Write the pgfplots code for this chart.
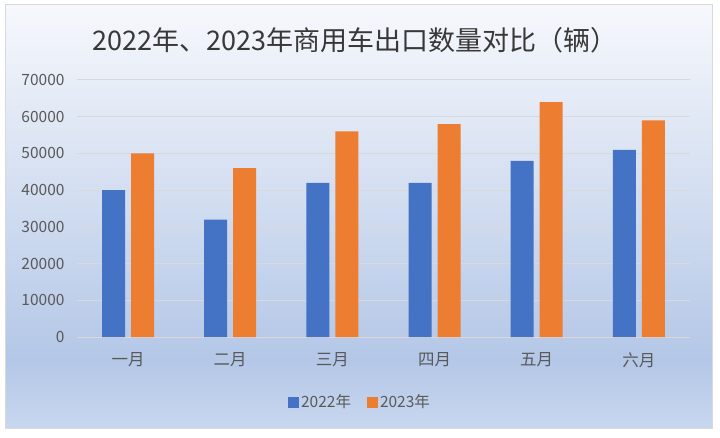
\documentclass[border=0pt]{standalone}
\usepackage{pgfplots}
\pgfplotsset{compat=1.18}
\usepackage{fontspec}
\setmainfont{Noto Sans CJK SC}
\definecolor{c2022}{HTML}{4472C4}
\definecolor{c2023}{HTML}{ED7D31}
\definecolor{txt}{HTML}{595959}
\definecolor{gridc}{HTML}{D9D9D9}
\definecolor{bgtop}{HTML}{F6F8FC}
\definecolor{bgmid}{HTML}{B4C7E7}
\definecolor{bgbot}{HTML}{C8D7EF}
\pgfdeclareverticalshading{bgshade}{100bp}{color(0bp)=(bgbot); color(25bp)=(bgbot); color(33bp)=(bgmid); color(75bp)=(bgtop); color(100bp)=(bgtop)}
\begin{document}
\begin{tikzpicture}[x=1pt,y=1pt]
\fill[white] (0,0) rectangle (720,437);
\shade[shading=bgshade] (5,9) rectangle (712,432);
\draw[gridc, line width=1pt] (5,9) rectangle (712,432);
\node[text=black!78, font=\fontsize{27}{31}\selectfont] at (355,397) {2022年、2023年商用车出口数量对比（辆）};
\begin{axis}[
  at={(77pt,100pt)}, anchor=south west,
  scale only axis, width=613pt, height=257pt,
  ybar, bar width=23pt,
  xmin=-0.5, xmax=5.5, ymin=0, ymax=70000,
  xtick={0,1,2,3,4,5},
  xticklabels={一月,二月,三月,四月,五月,六月},
  ytick={0,10000,...,70000},
  axis line style={draw=none},
  major tick style={draw=none},
  ymajorgrids, grid style={gridc, line width=1pt},
  /pgf/number format/assume math mode=true,
  scaled y ticks=false,
  yticklabel={\pgfmathprintnumber[fixed,1000 sep={}]{\tick}},
  ticklabel style={text=txt},
  yticklabel style={anchor=east, xshift=-9pt, font=\fontsize{15.5}{18}\selectfont},
  xticklabel style={yshift=-8pt, font=\fontsize{16.5}{19}\selectfont},
  legend style={at={(0.4617,-0.253)}, anchor=center, draw=none, fill=none,
    legend columns=2, font=\fontsize{15.5}{18}\selectfont, text=txt,
    /tikz/every even column/.append style={column sep=14pt}},
  legend image code/.code={\fill[#1] (0pt,-5.5pt) rectangle (11pt,5.5pt);},
]
\addplot[fill=c2022, draw=none, bar shift=-14.5pt] coordinates {(0,40000) (1,32000) (2,42000) (3,42000) (4,48000) (5,51000)};
\addplot[fill=c2023, draw=none, bar shift=14.5pt] coordinates {(0,50000) (1,46000) (2,56000) (3,58000) (4,64000) (5,59000)};
\legend{2022年,2023年}
\end{axis}
\end{tikzpicture}
\end{document}
